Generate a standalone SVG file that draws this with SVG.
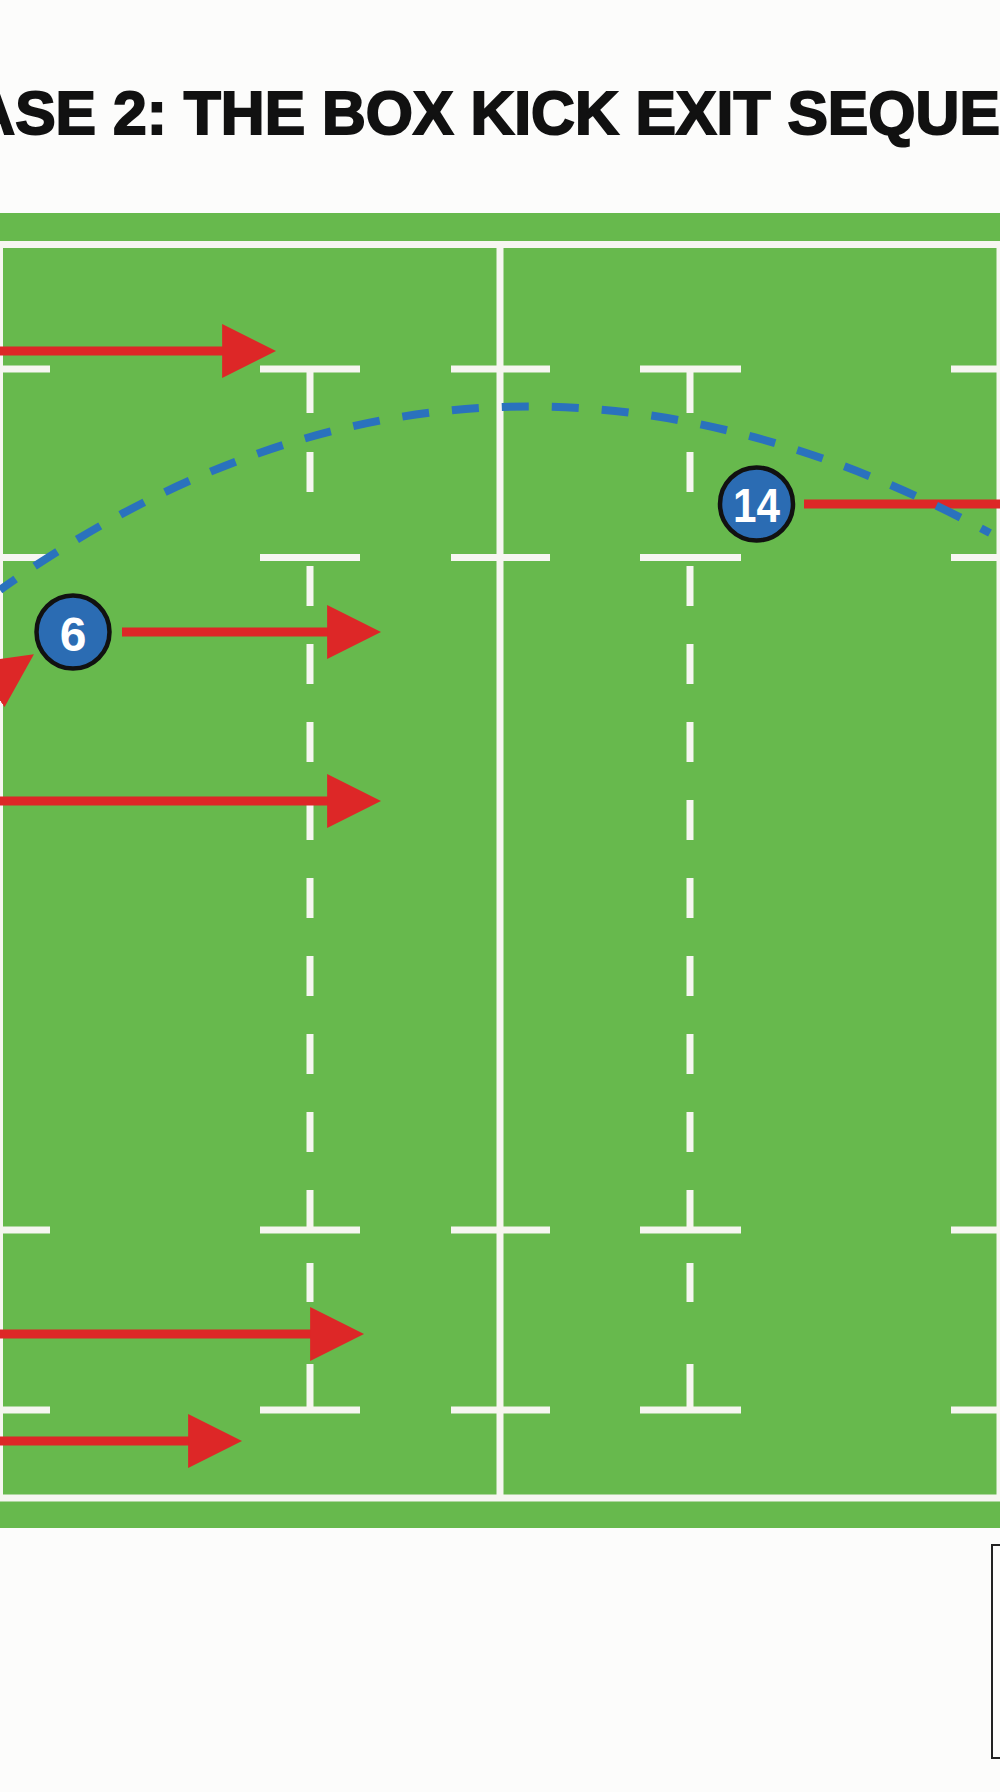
<svg xmlns="http://www.w3.org/2000/svg" width="1000" height="1792" viewBox="0 0 1000 1792">
<defs>
<style>
.bg{fill:#fcfcfb}
.grass{fill:#67b94d}
.wl{stroke:#f6f6f1;stroke-width:7;fill:none}
.run{stroke:#dd2727;stroke-width:9;fill:none}
.kick{stroke:#2a72bd;stroke-width:8;fill:none;stroke-dasharray:27 23}
.pl circle{fill:#2b6cb3;stroke:#111;stroke-width:4.5}
.pl text{fill:#fff;font-family:"Liberation Sans",Arial,sans-serif;font-weight:bold;font-size:48px;text-anchor:middle}
.title{fill:#111;stroke:#111;stroke-width:2;font-family:"Liberation Sans",Arial,sans-serif;font-weight:bold;font-size:62px}
.box{fill:none;stroke:#222;stroke-width:2}
</style>
<marker id="ah" markerUnits="userSpaceOnUse" markerWidth="54" markerHeight="54" viewBox="0 0 52 52" refX="22" refY="26" orient="auto">
<path d="M0,0 L52,26 L0,52 Z" fill="#dd2727"/>
</marker>
</defs>
<rect class="bg" x="0" y="0" width="1000" height="1792"/>
<text class="title" x="-113" y="134" textLength="1241" lengthAdjust="spacingAndGlyphs">PHASE 2: THE BOX KICK EXIT SEQUENCE</text>
<g id="pitch">
<rect class="grass" x="0" y="213" width="1000" height="1315"/>
<path class="wl" d="M0,244.5 H1000 M0,1498 H1000 M-0.5,244.5 V1498 M500,244.5 V1498 M1000,244.5 V1498"/>
<path class="wl" d="M0,369 H50 M260,369 H360 M451,369 H550 M640,369 H741 M951,369 H1000
M0,557.5 H50 M260,557.5 H360 M451,557.5 H550 M640,557.5 H741 M951,557.5 H1000
M0,1230 H50 M260,1230 H360 M451,1230 H550 M640,1230 H741 M951,1230 H1000
M0,1410 H50 M260,1410 H360 M451,1410 H550 M640,1410 H741 M951,1410 H1000"/>
<path class="wl" d="M310,369 V413 M310,452 V492 M310,566 V606 M310,644 V684 M310,722 V762 M310,800 V840 M310,878 V918 M310,956 V996 M310,1034 V1074 M310,1112 V1152 M310,1190 V1230 M310,1263 V1302 M310,1364 V1410
M690,369 V413 M690,452 V492 M690,566 V606 M690,644 V684 M690,722 V762 M690,800 V840 M690,878 V918 M690,956 V996 M690,1034 V1074 M690,1112 V1152 M690,1190 V1230 M690,1263 V1302 M690,1364 V1410"/>
</g>
<g id="connectors">
<path class="run" d="M-20,351 H245" marker-end="url(#ah)"/>
<path class="run" d="M122,632 H350" marker-end="url(#ah)"/>
<path class="run" d="M-20,801 H350" marker-end="url(#ah)"/>
<path class="run" d="M-20,1334 H333" marker-end="url(#ah)"/>
<path class="run" d="M-20,1441 H211" marker-end="url(#ah)"/>
<path class="run" d="M-74.4,728.2 L8.2,671.9" marker-end="url(#ah)"/>
<path class="run" d="M804,504 H1010"/>
<path class="kick" d="M0,590 Q472,254 990,533" stroke-dashoffset="8"/>
</g>
<g id="player-6" class="pl">
<circle cx="73" cy="632" r="36.5"/>
<text x="73" y="650.5">6</text>
</g>
<g id="player-14" class="pl">
<circle cx="756.5" cy="504" r="36.5"/>
<text x="756.5" y="521.5" textLength="47" lengthAdjust="spacingAndGlyphs">14</text>
</g>
<rect class="box" x="992" y="1545" width="40" height="213"/>
</svg>
